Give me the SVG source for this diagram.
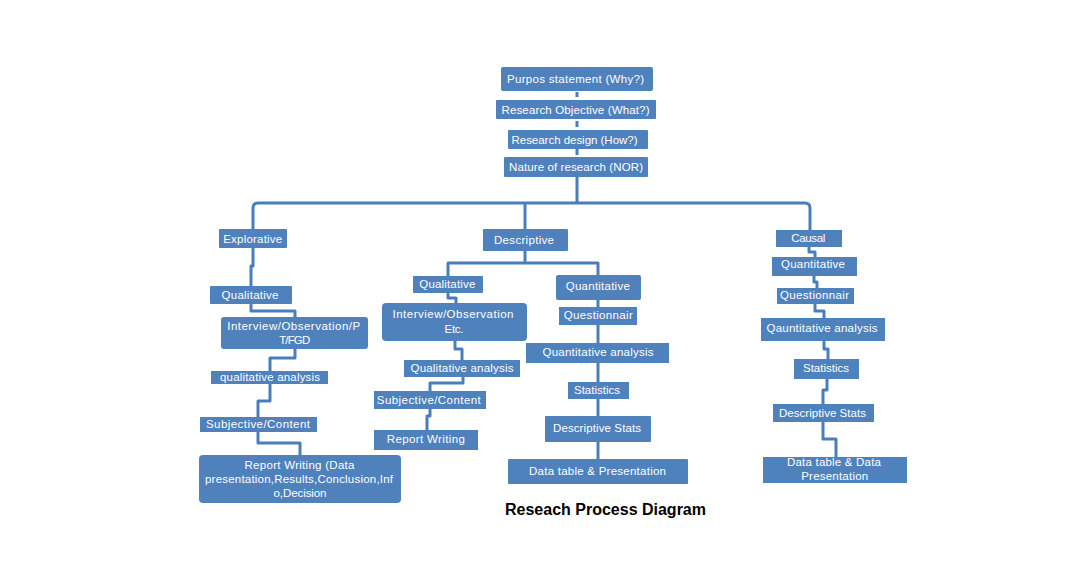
<svg xmlns="http://www.w3.org/2000/svg" width="1090" height="572" viewBox="0 0 1090 572">
<style>
.b{fill:#4F81BD}
.t{font-family:"Liberation Sans",Arial,sans-serif;font-size:11.5px;fill:#fff;text-anchor:middle}
.c{fill:none;stroke:#4A7EBB;stroke-width:3;stroke-linejoin:round}
.title{font-family:"Liberation Sans",Arial,sans-serif;font-size:16px;font-weight:bold;fill:#000;text-anchor:middle}
</style>
<rect width="1090" height="572" fill="#fff"/>
<g id="connectors">
<path class="c" d="M577,92 V97 M577,121 V127 M577,149 V155 M577,177 V203"/>
<path class="c" d="M253,229 V208 Q253,203 258,203 H805 Q810,203 810,208 V230"/>
<path class="c" d="M525,203 V229"/>
<path class="c" d="M253,248 V266 H251 V286"/>
<path class="c" d="M251,304 V311 H295 V317"/>
<path class="c" d="M295,349 V358 H270 V371"/>
<path class="c" d="M270,384 V401 H258 V417"/>
<path class="c" d="M258,432 V443 H300 V455"/>
<path class="c" d="M525,251 V263 M448,276 V263 H598 V275"/>
<path class="c" d="M448,293 V298 H456 V303"/>
<path class="c" d="M455,341 V349 H462 V360"/>
<path class="c" d="M463,377 V383 H430 V391"/>
<path class="c" d="M430,409 V416 H427 V430"/>
<path class="c" d="M598,300 V307 M598,325 V343 M598,363 V382 M598,399 V416 M598,442 V459"/>
<path class="c" d="M809,247 V252 H815 V257"/>
<path class="c" d="M814,276 V282 H817 V288"/>
<path class="c" d="M815,304 V311 H824 V318"/>
<path class="c" d="M824,341 V349 H828 V359"/>
<path class="c" d="M827,379 V390 H823 V404"/>
<path class="c" d="M823,422 V439 H836 V457"/>
</g>
<g id="purpose"><rect class="b" x="501" y="67" width="152" height="24" rx="2"/><text class="t" x="575.5" y="83" textLength="137" lengthAdjust="spacing">Purpos statement  (Why?)</text></g>
<g id="objective"><rect class="b" x="496" y="100" width="160" height="19" rx="1"/><text class="t" x="575.5" y="113.5" textLength="148" lengthAdjust="spacing">Research Objective (What?)</text></g>
<g id="design"><rect class="b" x="508" y="130" width="140" height="19" rx="1"/><text class="t" x="574.5" y="143.5" textLength="126" lengthAdjust="spacing">Research design (How?)</text></g>
<g id="nature"><rect class="b" x="504" y="157" width="144" height="20" rx="1"/><text class="t" x="576" y="171" textLength="134" lengthAdjust="spacing">Nature of research (NOR)</text></g>

<g id="explorative"><rect class="b" x="219" y="229" width="68" height="19" rx="1"/><text class="t" x="252.7" y="242.5" textLength="59" lengthAdjust="spacing">Explorative</text></g>
<g id="exp-qualitative"><rect class="b" x="210" y="286" width="82" height="18" rx="1"/><text class="t" x="250" y="299" textLength="57" lengthAdjust="spacing">Qualitative</text></g>
<g id="exp-interview"><rect class="b" x="221" y="317" width="147" height="32" rx="3"/><text class="t" x="293.7" y="329.5" textLength="133" lengthAdjust="spacing">Interview/Observation/P</text><text class="t" x="294.7" y="344" textLength="31" lengthAdjust="spacing">T/FGD</text></g>
<g id="exp-analysis"><rect class="b" x="211" y="371" width="117" height="13"/><text class="t" x="270" y="381" textLength="100" lengthAdjust="spacing">qualitative  analysis</text></g>
<g id="exp-subjective"><rect class="b" x="200" y="417" width="117" height="15"/><text class="t" x="258" y="428" textLength="104" lengthAdjust="spacing">Subjective/Content</text></g>
<g id="exp-report"><rect class="b" x="199" y="455" width="202" height="48" rx="4"/><text class="t" x="299.5" y="468.5" textLength="110" lengthAdjust="spacing">Report Writing (Data</text><text class="t" x="299" y="482.7" textLength="188" lengthAdjust="spacing">presentation,Results,Conclusion,Inf</text><text class="t" x="300" y="496.7" textLength="53" lengthAdjust="spacing">o,Decision</text></g>

<g id="descriptive"><rect class="b" x="483" y="229" width="85" height="22" rx="1"/><text class="t" x="524" y="244" textLength="60" lengthAdjust="spacing">Descriptive</text></g>
<g id="des-qualitative"><rect class="b" x="413" y="276" width="70" height="17" rx="1"/><text class="t" x="447.3" y="288" textLength="56" lengthAdjust="spacing">Qualitative</text></g>
<g id="des-interview"><rect class="b" x="382" y="303" width="145" height="38" rx="4"/><text class="t" x="453" y="318.3" textLength="121" lengthAdjust="spacing">Interview/Observation</text><text class="t" x="454" y="332.7" textLength="19" lengthAdjust="spacing">Etc.</text></g>
<g id="des-qual-analysis"><rect class="b" x="404" y="360" width="116" height="17"/><text class="t" x="462" y="372" textLength="103" lengthAdjust="spacing">Qualitative  analysis</text></g>
<g id="des-subjective"><rect class="b" x="374" y="391" width="112" height="18"/><text class="t" x="428.8" y="404" textLength="104" lengthAdjust="spacing">Subjective/Content</text></g>
<g id="des-report"><rect class="b" x="374" y="430" width="104" height="20"/><text class="t" x="425.8" y="443.3" textLength="78" lengthAdjust="spacing">Report Writing</text></g>
<g id="des-quantitative"><rect class="b" x="556" y="275" width="85" height="25" rx="2"/><text class="t" x="597.8" y="290" textLength="64" lengthAdjust="spacing">Quantitative</text></g>
<g id="des-questionnair"><rect class="b" x="559" y="307" width="78" height="18"/><text class="t" x="598.3" y="319.3" textLength="69" lengthAdjust="spacing">Questionnair</text></g>
<g id="des-quant-analysis"><rect class="b" x="526" y="343" width="143" height="20"/><text class="t" x="598" y="356" textLength="111" lengthAdjust="spacing">Quantitative  analysis</text></g>
<g id="des-statistics"><rect class="b" x="568" y="382" width="61" height="17"/><text class="t" x="597" y="394.3" textLength="46" lengthAdjust="spacing">Statistics</text></g>
<g id="des-descstats"><rect class="b" x="545" y="416" width="106" height="26" rx="1"/><text class="t" x="597" y="432.3" textLength="88" lengthAdjust="spacing">Descriptive Stats</text></g>
<g id="des-datatable"><rect class="b" x="508" y="459" width="180" height="25" rx="1"/><text class="t" x="597.5" y="475" textLength="137" lengthAdjust="spacing">Data table &amp; Presentation</text></g>

<g id="causal"><rect class="b" x="776" y="230" width="66" height="17"/><text class="t" x="808.3" y="241.7" textLength="34" lengthAdjust="spacing">Causal</text></g>
<g id="cau-quantitative"><rect class="b" x="772" y="257" width="85" height="19"/><text class="t" x="813" y="268.3" textLength="64" lengthAdjust="spacing">Quantitative</text></g>
<g id="cau-questionnair"><rect class="b" x="777" y="288" width="77" height="16"/><text class="t" x="814.5" y="299" textLength="69" lengthAdjust="spacing">Questionnair</text></g>
<g id="cau-analysis"><rect class="b" x="761" y="318" width="124" height="23"/><text class="t" x="822" y="332.3" textLength="111" lengthAdjust="spacing">Qauntitative  analysis</text></g>
<g id="cau-statistics"><rect class="b" x="794" y="359" width="65" height="20"/><text class="t" x="826" y="371.7" textLength="46" lengthAdjust="spacing">Statistics</text></g>
<g id="cau-descstats"><rect class="b" x="773" y="404" width="101" height="18"/><text class="t" x="822.5" y="416.7" textLength="87" lengthAdjust="spacing">Descriptive Stats</text></g>
<g id="cau-datatable"><rect class="b" x="763" y="457" width="144" height="26"/><text class="t" x="834" y="466" textLength="94" lengthAdjust="spacing">Data table  &amp; Data</text><text class="t" x="834.7" y="480" textLength="67" lengthAdjust="spacing">Presentation</text></g>

<text class="title" x="605.5" y="515" textLength="201" lengthAdjust="spacing">Reseach Process Diagram</text>
</svg>
